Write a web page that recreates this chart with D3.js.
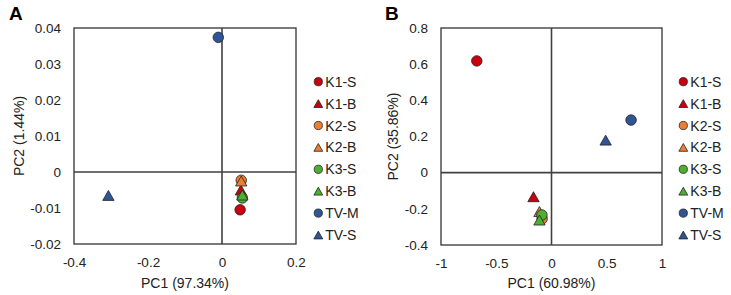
<!DOCTYPE html>
<html><head><meta charset="utf-8">
<script src="https://cdn.jsdelivr.net/npm/d3@7/dist/d3.min.js"></script>
<style>body{margin:0;background:#fff}svg{display:block}</style>
</head><body><svg id="c" width="731" height="295"></svg>
<script>
const groups = ["K1-S","K1-B","K2-S","K2-B","K3-S","K3-B","TV-M","TV-S"];
const shapes = ["circle","triangle","circle","triangle","circle","triangle","circle","triangle"];
const colors = ["#c8000f","#c8000f","#ed7d31","#ed7d31","#4caf2f","#4caf2f","#2f5597","#2f5597"];
// Panel A values
const aPC1 = [0.049, 0.051, 0.052, 0.052, 0.055, 0.055, -0.010, -0.307];
const aPC2 = [-0.0105, -0.0050, -0.0023, -0.0025, -0.0072, -0.0064, 0.0374, -0.0065];
const aXTicks = [-0.4,-0.2,0,0.2];
const aYTicks = [0.04,0.03,0.02,0.01,0,-0.01,-0.02];
// Panel B values
const bPC1 = [-0.676, -0.163, -0.085, -0.109, -0.087, -0.109, 0.72, 0.49];
const bPC2 = [0.618, -0.133, -0.255, -0.215, -0.234, -0.262, 0.291, 0.18];
const bXTicks = [-1,-0.5,0,0.5,1];
const bYTicks = [0.8,0.6,0.4,0.2,0,-0.2,-0.4];

const svg = d3.select("#c");
const FONT = "Liberation Sans, Arial, sans-serif";

function markerPath(shape, s){
  if(shape==="circle"){ const r=s/2; return `M${-r},0A${r},${r} 0 1,0 ${r},0A${r},${r} 0 1,0 ${-r},0Z`; }
  const w=s*1.08, h=s*0.95;
  return `M0,${-h/2}L${w/2},${h/2}L${-w/2},${h/2}Z`;
}

function panel(o){
  const g = svg.append("g");
  const x = d3.scaleLinear().domain(o.xd).range([o.l,o.r]);
  const y = d3.scaleLinear().domain(o.yd).range([o.b,o.t]);
  const ax = g.append("g").attr("transform",`translate(0,${o.b})`)
    .call(d3.axisBottom(x).tickValues(o.xt).tickSize(0).tickPadding(13).tickFormat(d=>String(d)));
  const ay = g.append("g").attr("transform",`translate(${o.l},0)`)
    .call(d3.axisLeft(y).tickValues(o.yt).tickSize(0).tickPadding(13).tickFormat(d=>String(d)));
  [ax,ay].forEach(a=>{a.select(".domain").remove(); a.selectAll("text").attr("font-family",FONT).attr("font-size",13.5).attr("fill","#222");});
  g.append("rect").attr("x",o.l).attr("y",o.t).attr("width",o.r-o.l).attr("height",o.b-o.t)
    .attr("fill","none").attr("stroke","#333").attr("stroke-width",1.3);
  g.append("line").attr("x1",x(0)).attr("x2",x(0)).attr("y1",o.t).attr("y2",o.b).attr("stroke","#404040").attr("stroke-width",1.6);
  g.append("line").attr("x1",o.l).attr("x2",o.r).attr("y1",y(0)).attr("y2",y(0)).attr("stroke","#404040").attr("stroke-width",1.6);
  groups.forEach((name,i)=>{
    g.append("path").attr("d",markerPath(shapes[i],10.5))
      .attr("transform",`translate(${x(o.px[i])},${y(o.py[i])})`)
      .attr("fill",colors[i]).attr("stroke","#222").attr("stroke-width",0.8);
  });
  g.append("text").attr("x",(o.l+o.r)/2).attr("y",288).attr("text-anchor","middle")
    .attr("font-family",FONT).attr("font-size",14).attr("fill","#222").text(o.xlab);
  g.append("text").attr("transform",`translate(${o.yl},${(o.t+o.b)/2}) rotate(-90)`).attr("text-anchor","middle")
    .attr("font-family",FONT).attr("font-size",14).attr("fill","#222").text(o.ylab);
  g.append("text").attr("x",o.lx).attr("y",20).attr("font-family",FONT).attr("font-weight","bold")
    .attr("font-size",19).attr("fill","#000").text(o.letter);
  const lg = g.append("g");
  groups.forEach((name,i)=>{
    const yy = 81.7 + i*21.9;
    lg.append("path").attr("d",markerPath(shapes[i],8.2)).attr("transform",`translate(${o.legx},${yy})`)
      .attr("fill",colors[i]).attr("stroke","#222").attr("stroke-width",0.8);
    lg.append("text").attr("x",o.legx+7).attr("y",yy+5).attr("font-family",FONT).attr("font-size",14)
      .attr("fill","#222").text(name);
  });
}

panel({l:74,r:296,t:28,b:244,xd:[-0.4,0.2],yd:[-0.02,0.04],xt:aXTicks,yt:aYTicks,px:aPC1,py:aPC2,
  xlab:"PC1 (97.34%)",ylab:"PC2 (1.44%)",yl:24,letter:"A",lx:9,legx:318.3});
panel({l:441,r:662,t:28,b:245,xd:[-1,1],yd:[-0.4,0.8],xt:bXTicks,yt:bYTicks,px:bPC1,py:bPC2,
  xlab:"PC1 (60.98%)",ylab:"PC2 (35.86%)",yl:398,letter:"B",lx:385,legx:683.3});
</script></body></html>
